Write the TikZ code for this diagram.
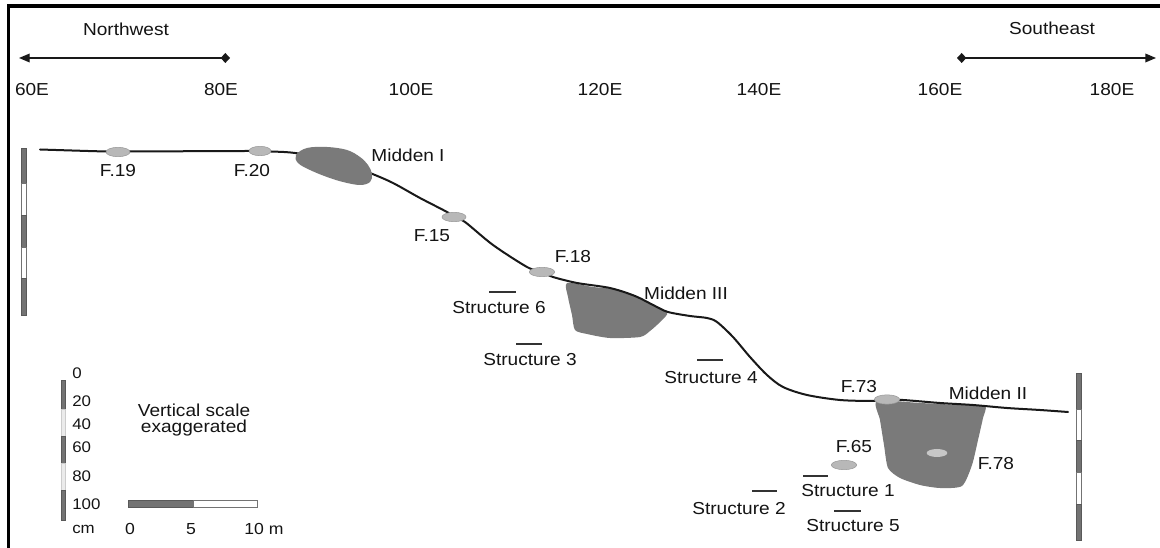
\documentclass[tikz,border=0pt]{standalone}
\usepackage{fontspec}
\setmainfont{Liberation Sans}[FakeStretch=1.1]
\usetikzlibrary{arrows.meta,shapes.geometric}

\tikzset{
  lbl/.style={font=\fontsize{13}{12}\selectfont, text=black!92, inner sep=0pt, anchor=base},
  small/.style={font=\fontsize{11.5}{12}\selectfont, text=black!92, inner sep=0pt, anchor=base west},
  ground/.style={line width=1.5pt, line cap=round, line join=round, black!90},
  midden/.style={fill=black!52, draw=none},
  feature/.style={ellipse, draw=black!40, line width=0.4pt, fill=black!28, inner sep=0pt,
                  minimum width=18pt, minimum height=7pt},
  structline/.style={line width=1.3pt, black!80},
  dirarrow/.style={line width=1pt, black!90,
                   {Diamond[length=7pt,width=7.5pt]}-{Triangle[length=8pt,width=6.5pt]}},
  darkseg/.style={fill=black!55, draw=black!65, line width=0.4pt},
  lightseg/.style={fill=white, draw=black!55, line width=0.4pt},
}

\begin{document}
\begin{tikzpicture}[x=0.75pt,y=-0.75pt]
\useasboundingbox (0,0) rectangle (1160,548);
\fill[white] (0,0) rectangle (1160,548);

% frame on the left and top
\draw[line width=2.5pt] (8.3,548) -- (8.3,6) -- (1160,6);

% direction arrows
\node[lbl] (nw) at (126,36) {Northwest};
\node[lbl] (se) at (1052,35) {Southeast};
\coordinate (nwA) at (230,58);
\coordinate (nwB) at (19,58);
\coordinate (seA) at (957,58);
\coordinate (seB) at (1156,58);
\draw[dirarrow] (nwA) -- (nwB);
\draw[dirarrow] (seA) -- (seB);

% grid labels along the profile
\foreach \x/\t in {32/60E, 221/80E, 411/100E, 600/120E, 759/140E, 940/160E, 1112/180E}
  \node[lbl] (grid\t) at (\x,96) {\t};

% middens lying beneath the surface line
\fill[midden] plot[smooth cycle, tension=0.45] coordinates {
  (567,283) (593,287) (620,290) (643,300) (667,312) (660,322) (650,331) (640,337)
  (610,338) (587,334) (575,330) (572,315) (568,297)};
\fill[midden] plot[smooth cycle, tension=0.4] coordinates {
  (877,401) (920,403) (960,405) (985,406) (983,418) (978,440) (972,465) (962,486)
  (940,488) (920,485) (900,478) (888,468) (884,445) (880,420)};

% ground surface
\draw[ground] plot[smooth, tension=0.5] coordinates {
  (40,149.5) (106,151.5) (130,151.5) (249,151) (271,151.5) (295,153) (335,160) (370,173)
  (393,183) (420,198) (447,212) (454,217) (465,222) (493,245) (527,267) (542,272)
  (553,277) (577,283) (610,288) (635,296) (655,306) (668,312) (690,316) (707,318)
  (717,322) (733,337) (750,357) (767,375) (783,387) (807,395) (840,400) (873,401)
  (887,400) (903,400) (940,403) (973,405) (1007,408) (1040,410) (1068,412)};

% Midden I sits on the surface
\fill[midden] plot[smooth cycle, tension=0.6] coordinates {
  (296,155) (307,148) (327,147) (347,150) (360,157) (368,165) (372,174) (370,182)
  (360,185) (343,182) (327,177) (310,170) (298,163)};

% features
\node[feature] (f19) at (118,152) {};
\node[feature, minimum width=16.5pt] (f20) at (260,151) {};
\node[feature] (f15) at (454,217) {};
\node[feature, minimum width=19pt] (f18) at (542,272) {};
\node[feature, minimum width=19pt] (f73) at (887,399.5) {};
\node[feature, minimum width=19pt] (f65) at (844,465) {};
\node[feature, minimum width=15.5pt, minimum height=6pt, fill=black!22, draw=none] (f78) at (937,453) {};

% feature and midden labels
\node[lbl] (lf19) at (118,176.5) {F.19};
\node[lbl] (lf20) at (252,176.5) {F.20};
\node[lbl] (lm1) at (408,161.5) {Midden I};
\node[lbl] (lf15) at (432,241.5) {F.15};
\node[lbl] (lf18) at (573,263) {F.18};
\node[lbl] (lm3) at (686,300) {Midden III};
\node[lbl] (lf73) at (859,393) {F.73};
\node[lbl] (lm2) at (988,400) {Midden II};
\node[lbl] (lf65) at (854,453) {F.65};
\node[lbl] (lf78) at (996,470) {F.78};

% structures
\draw[structline] (489,292) -- (516,292);
\node[lbl] (s6) at (499,314) {Structure 6};
\draw[structline] (516,344) -- (542,344);
\node[lbl] (s3) at (530,366) {Structure 3};
\draw[structline] (697,360) -- (723,360);
\node[lbl] (s4) at (711,384) {Structure 4};
\draw[structline] (803,476) -- (828,476);
\node[lbl] (s1) at (848,496.5) {Structure 1};
\draw[structline] (752,491) -- (777,491);
\node[lbl] (s2) at (739,514) {Structure 2};
\draw[structline] (834,511) -- (861,511);
\node[lbl] (s5) at (853,531.5) {Structure 5};

% vertical scale rods at both ends of the profile
\foreach \a/\b [count=\i] in {148/183, 183/215, 215/247, 247/278, 278/315} {
  \ifodd\i \path[darkseg] (21,\a) rectangle (26,\b); \else \path[lightseg] (21,\a) rectangle (26,\b); \fi
}
\foreach \a/\b [count=\i] in {373/409, 409/440, 440/472, 472/504, 504/540} {
  \ifodd\i \path[darkseg] (1076,\a) rectangle (1081,\b); \else \path[lightseg] (1076,\a) rectangle (1081,\b); \fi
}

% legend: vertical scale
\foreach \a/\b [count=\i] in {380/409, 409/436, 436/463, 463/490, 490/520} {
  \ifodd\i \path[darkseg] (61,\a) rectangle (65,\b); \else \path[fill=black!8, draw=black!20, line width=0.4pt] (61,\a) rectangle (65,\b); \fi
}
\foreach \y/\t in {379/0, 407/20, 430/40, 453/60, 482/80, 509/100, 533/cm}
  \node[small] (v\t) at (72,\y) {\t};

\node[lbl, anchor=center, align=center] (vnote) at (194,420) {Vertical scale\\ exaggerated};

% legend: horizontal scale
\path[darkseg] (128,500) rectangle (193,507);
\path[lightseg] (193,500) rectangle (257,507);
\node[lbl, font=\fontsize{12}{12}\selectfont] (h0) at (130,535) {0};
\node[lbl, font=\fontsize{12}{12}\selectfont] (h5) at (191,535) {5};
\node[lbl, font=\fontsize{12}{12}\selectfont] (h10) at (264,535) {10 m};
\end{tikzpicture}
\end{document}
